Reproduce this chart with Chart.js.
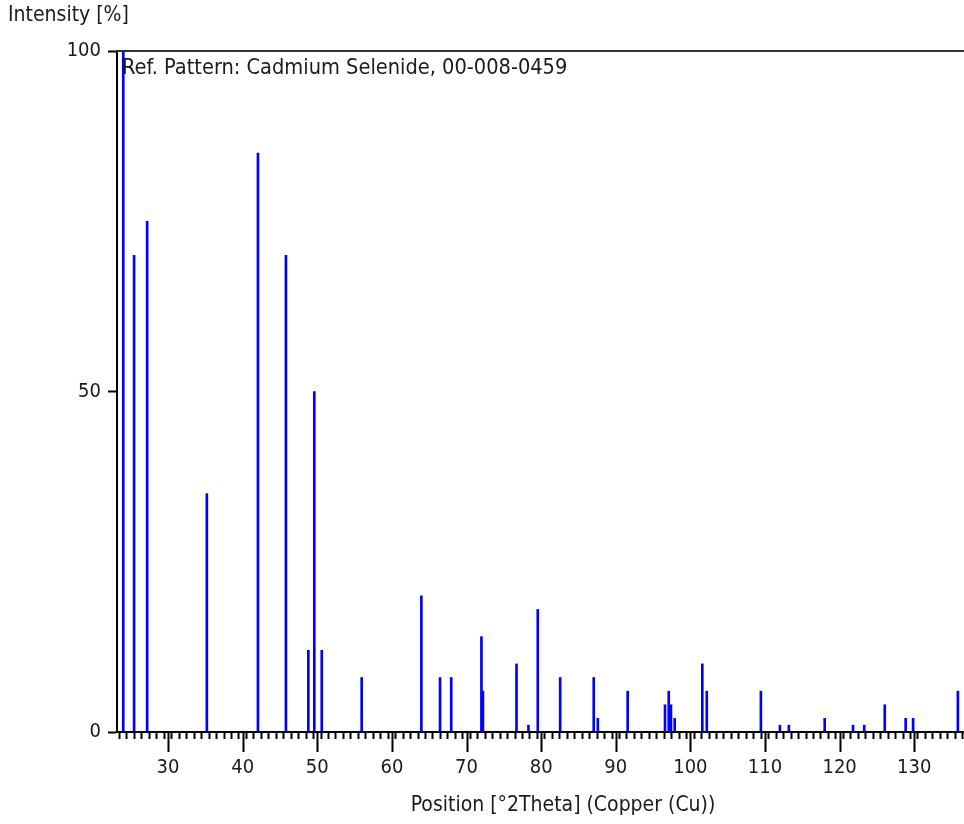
<!DOCTYPE html>
<html>
<head>
<meta charset="utf-8">
<title>Cadmium Selenide reference pattern</title>
<script src="https://cdn.jsdelivr.net/npm/chart.js@4.4.1/dist/chart.umd.min.js"></script>
<style>
  html, body { margin: 0; padding: 0; background: #fff; }
  #wrap { width: 964px; height: 824px; }
</style>
</head>
<body>
<div id="wrap"><canvas id="pattern" width="964" height="824"></canvas></div>
<script>
// peak list: position (°2Theta) and relative intensity (%)
var positions = [
  24.0, 25.45, 27.2, 35.2, 42.05, 45.8, 48.8, 49.6, 50.6, 55.95,
  63.95, 66.45, 67.95, 72.0, 72.2, 76.7, 78.3, 79.55, 82.55, 87.05,
  87.6, 91.6, 96.6, 97.1, 97.4, 97.9, 101.6, 102.2, 109.45, 112.0,
  113.2, 118.0, 121.8, 123.3, 126.05, 128.85, 129.85, 135.85
];
var intensities = [
  100, 70, 75, 35, 85, 70, 12, 50, 12, 8,
  20, 8, 8, 14, 6, 10, 1, 18, 8, 8,
  2, 6, 4, 6, 4, 2, 10, 6, 6, 1,
  1, 2, 1, 1, 4, 2, 2, 6
];
var yTickValues = [0, 50, 100];
var xMin = 23.16, xMax = 136.67;

var labelFont = "'DejaVu Sans Condensed', 'DejaVu Sans', sans-serif";
var textColor = '#1b1b1b';

var peaks = positions.map(function (p, i) { return { x: p, y: intensities[i] }; });

// frame line on top, long ticks every 10 degrees, captions
var decorations = {
  id: 'decorations',
  afterDraw: function (chart) {
    var ctx = chart.ctx;
    var area = chart.chartArea;
    var xs = chart.scales.x;
    ctx.save();

    ctx.strokeStyle = '#333';
    ctx.lineWidth = 2;
    ctx.beginPath();
    ctx.moveTo(area.left - 1, area.top);
    ctx.lineTo(chart.width, area.top);
    ctx.stroke();

    ctx.strokeStyle = '#000';
    ctx.lineWidth = 2;
    ctx.beginPath();
    for (var v = 30; v <= xMax; v += 10) {
      var px = Math.round(xs.getPixelForValue(v)) + 0.5;
      ctx.moveTo(px, area.bottom);
      ctx.lineTo(px, area.bottom + 20);
    }
    ctx.stroke();

    ctx.fillStyle = textColor;
    ctx.textBaseline = 'middle';
    ctx.textAlign = 'left';
    ctx.font = '21px ' + labelFont;
    ctx.fillText('Intensity [%]', 8, 16);
    ctx.font = '21.6px ' + labelFont;
    ctx.fillText('Ref. Pattern: Cadmium Selenide, 00-008-0459', area.left + 5, 68);
    ctx.font = '21px ' + labelFont;
    ctx.textAlign = 'center';
    ctx.fillText('Position [°2Theta] (Copper (Cu))', 563, 806);
    ctx.restore();
  }
};

new Chart(document.getElementById('pattern'), {
  type: 'bar',
  data: {
    datasets: [{
      data: peaks,
      backgroundColor: '#0000ff',
      borderWidth: 0,
      barThickness: 2
    }]
  },
  options: {
    responsive: false,
    animation: false,
    events: [],
    layout: { padding: { top: 51, right: 0, left: 0, bottom: 0 } },
    plugins: { legend: { display: false }, tooltip: { enabled: false } },
    scales: {
      x: {
        type: 'linear',
        min: xMin,
        max: xMax,
        offset: false,
        afterFit: function (s) {
          s.height = 824 - 732;
          s.paddingLeft = 0;
          s.paddingRight = 0;
        },
        border: { display: true, color: '#000', width: 2 },
        grid: { drawOnChartArea: false, drawTicks: true, tickLength: 7, tickColor: '#000', tickWidth: 2 },
        ticks: {
          stepSize: 1,
          includeBounds: false,
          autoSkip: false,
          maxRotation: 0,
          padding: 17,
          color: textColor,
          font: { family: labelFont, size: 20 },
          callback: function (v) { return v % 10 === 0 ? String(v) : ''; }
        }
      },
      y: {
        min: 0,
        max: 100,
        afterFit: function (s) { s.width = 117; },
        afterBuildTicks: function (s) { s.ticks = yTickValues.map(function (v) { return { value: v }; }); },
        border: { display: true, color: '#000', width: 2 },
        grid: { drawOnChartArea: false, drawTicks: true, tickLength: 9, tickColor: '#000', tickWidth: 2 },
        ticks: {
          padding: 7,
          color: textColor,
          font: { family: labelFont, size: 20 }
        }
      }
    }
  },
  plugins: [decorations]
});
</script>
</body>
</html>
